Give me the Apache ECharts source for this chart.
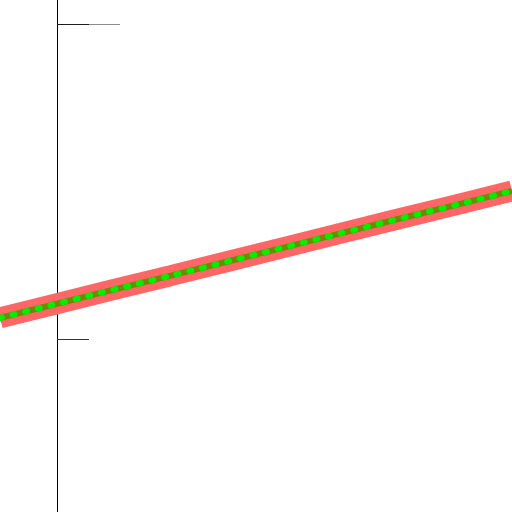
<!DOCTYPE html>
<html>
<head>
<meta charset="utf-8">
<script src="https://cdn.jsdelivr.net/npm/echarts@6/dist/echarts.min.js"></script>
<style>
html, body { margin: 0; padding: 0; background: #fff; }
#chart { width: 512px; height: 512px; }
</style>
</head>
<body>
<div id="chart"></div>
<script>
// data
const xValues = [-1, 0, 1, 2, 3, 4, 5, 6, 7, 8]
const yValues = [1.067, 1.112, 1.157, 1.201, 1.246, 1.291, 1.336, 1.381, 1.425, 1.470]

const points = xValues.map((x, i) => [x, yValues[i]])

let myChart = echarts.init(document.getElementById('chart'))

let option = {
    animation: false,
    grid: {
        left: 0, right: 0, top: -291, bottom: -142,
        containLabel: false,
        outerBoundsMode: 'none' // v6 clamps grid to the container otherwise
    },
    xAxis: {
        type: 'value',
        min: -1,
        max: 8,
        show: false
    },
    yAxis: [
        {
            type: 'value',
            min: 0,
            max: 3,
            interval: 1,
            position: 'left',
            offset: -57,
            axisLine: { show: true, onZero: false, lineStyle: { color: '#000', width: 1 } },
            axisTick: { show: true, inside: true, length: 32, lineStyle: { color: '#333' } },
            axisLabel: { show: false },
            splitLine: { show: false }
        },
        {
            type: 'value',
            min: 0,
            max: 3,
            interval: 2,
            position: 'left',
            offset: -57,
            axisLine: { show: false },
            axisTick: { show: true, inside: true, length: 63, lineStyle: { color: 'rgba(0,0,0,0.45)' } },
            axisLabel: { show: false },
            splitLine: { show: false }
        }
    ],
    series: [
        {
            type: 'line',
            data: points,
            symbol: 'none',
            lineStyle: { color: '#ff6666', width: 21 }
        },
        {
            type: 'line',
            data: points,
            symbol: 'none',
            lineStyle: { color: '#6f8a00', width: 6 }
        },
        {
            type: 'line',
            data: points,
            symbol: 'none',
            lineStyle: { color: '#00ee00', width: 6, type: [2, 11], cap: 'round' }
        }
    ]
}

myChart.setOption(option)
</script>
</body>
</html>
